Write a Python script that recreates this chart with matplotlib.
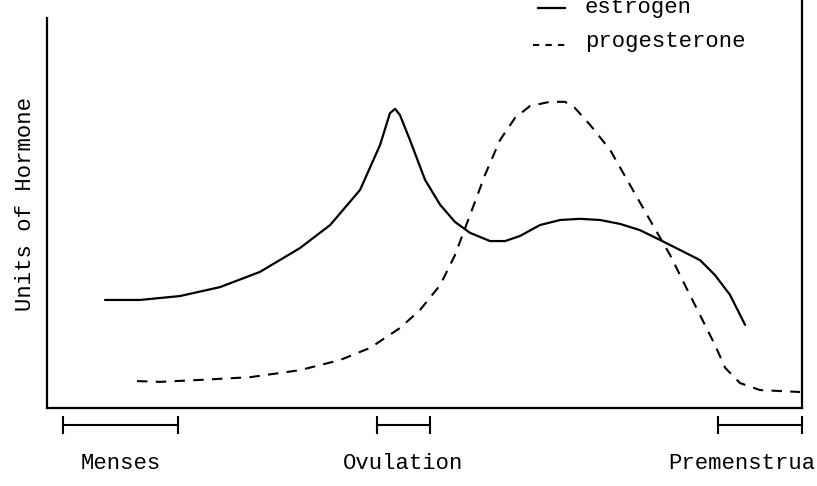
import matplotlib
matplotlib.use("Agg")
import matplotlib.pyplot as plt

# Day of cycle (x) and arbitrary hormone units (y)
estrogen_day = [2.15, 3.45, 4.93, 6.42, 7.90, 9.38, 10.50, 11.61, 12.35, 12.72, 12.91, 13.09,
                13.46, 14.02, 14.58, 15.13, 15.69, 16.43, 16.99, 17.54, 18.28, 19.03, 19.77,
                20.51, 21.25, 21.99, 22.73, 23.48, 24.22, 24.77, 25.33, 25.89]
estrogen_val = [2.77, 2.77, 2.87, 3.10, 3.49, 4.10, 4.69, 5.59, 6.74, 7.56, 7.67, 7.51,
                6.87, 5.85, 5.21, 4.77, 4.49, 4.28, 4.28, 4.41, 4.69, 4.82, 4.85,
                4.82, 4.72, 4.56, 4.31, 4.05, 3.79, 3.41, 2.90, 2.13]

progesterone_day = [3.34, 4.19, 5.67, 7.53, 9.38, 10.87, 11.98, 13.09, 13.83, 14.58, 15.13,
                    15.69, 16.24, 16.80, 17.36, 17.91, 18.65, 19.21, 19.58, 20.14, 20.88,
                    21.62, 22.36, 23.11, 23.66, 24.22, 24.77, 25.15, 25.70, 26.44, 27.93]
progesterone_val = [0.69, 0.67, 0.72, 0.79, 0.97, 1.23, 1.54, 2.05, 2.51, 3.15, 3.92,
                    4.95, 5.97, 6.87, 7.44, 7.74, 7.85, 7.85, 7.69, 7.26, 6.62,
                    5.72, 4.82, 3.92, 3.15, 2.38, 1.62, 1.03, 0.64, 0.46, 0.41]

phase_labels = ["Menses", "Ovulation", "Premenstrual"]
phase_start = [0.59, 12.24, 24.89]
phase_end = [4.86, 14.20, 28.0]

series_labels = ["estrogen", "progesterone"]

font = ["Liberation Mono", "DejaVu Sans Mono"]
FS = 16

fig = plt.figure(figsize=(8.17, 4.86), dpi=100)
ax = fig.add_axes([47 / 817, 78 / 486, (802 - 47) / 817, 408 / 486])
ax.set_xlim(0, 28)
ax.set_ylim(0, 10.46)

ax.plot(estrogen_day, estrogen_val, color="black", lw=1.6, solid_capstyle="round")
ax.plot(progesterone_day, progesterone_val, color="black", lw=1.5, dashes=(5, 4))

for s in ["top"]:
    ax.spines[s].set_visible(False)
ax.spines["left"].set_bounds(0, 10.0)
for s in ["left", "right", "bottom"]:
    ax.spines[s].set_linewidth(1.6)
ax.set_xticks([])
ax.set_yticks([])

ax.set_ylabel("Units of Hormone", family=font, fontsize=FS, labelpad=8)

# phase brackets
yb = -0.44
for lab, a, b in zip(phase_labels, phase_start, phase_end):
    ax.plot([a, b], [yb, yb], color="black", lw=1.5, clip_on=False)
    ax.plot([a, a], [yb - 0.2, yb + 0.2], color="black", lw=1.5, clip_on=False)
    ax.plot([b, b], [yb - 0.2, yb + 0.2], color="black", lw=1.5, clip_on=False)

ax.text((phase_start[0] + phase_end[0]) / 2, -1.42, phase_labels[0], family=font,
        fontsize=FS, ha="center", va="center", clip_on=False)
ax.text((phase_start[1] + phase_end[1]) / 2, -1.42, phase_labels[1], family=font,
        fontsize=FS, ha="center", va="center", clip_on=False)
ax.text(23.03, -1.42, phase_labels[2], family=font,
        fontsize=FS, ha="left", va="center", clip_on=False)

# legend drawn by hand
ax.plot([18.21, 19.21], [10.26, 10.26], color="black", lw=1.6, clip_on=False)
ax.text(19.95, 10.13, series_labels[0], family=font, fontsize=FS, va="baseline",
        clip_on=False)
ax.plot([18.03, 19.32], [9.31, 9.31], color="black", lw=1.5, dashes=(3, 3),
        clip_on=False)
ax.text(19.95, 9.26, series_labels[1], family=font, fontsize=FS, va="baseline",
        clip_on=False)

fig.savefig("out.png", dpi=100)
